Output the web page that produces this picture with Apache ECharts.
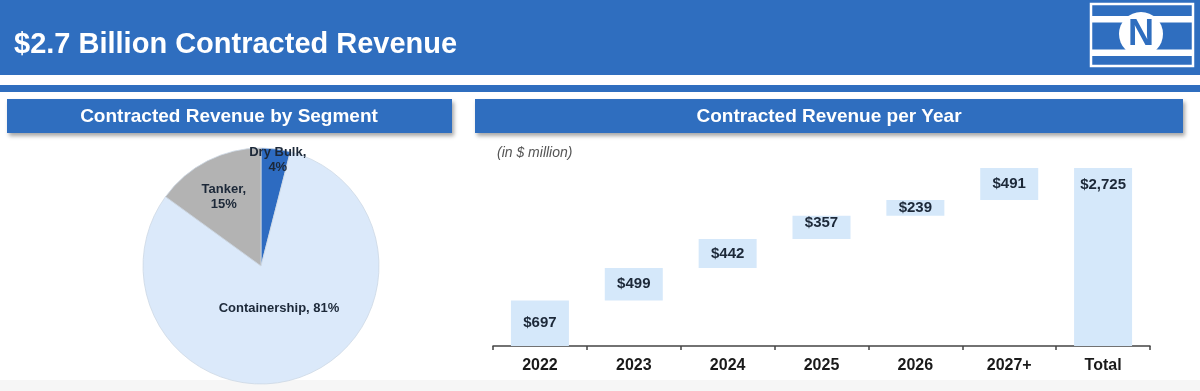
<!DOCTYPE html>
<html>
<head>
<meta charset="utf-8">
<script src="https://cdn.jsdelivr.net/npm/echarts@6/dist/echarts.min.js"></script>
<style>
  html, body { margin: 0; padding: 0; background: #ffffff; }
  #chart { width: 1200px; height: 391px; }
</style>
</head>
<body>
<div id="chart"></div>
<script>
// ---- Data ----
const pageTitle = '$2.7 Billion Contracted Revenue';
const leftTitle = 'Contracted Revenue by Segment';
const rightTitle = 'Contracted Revenue per Year';
const unitNote = '(in $ million)';

const segments = ['Dry Bulk', 'Containership', 'Tanker'];
const segmentShare = [4, 81, 15];

const years = ['2022', '2023', '2024', '2025', '2026', '2027+', 'Total'];
const revenue = [697, 499, 442, 357, 239, 491, 2725];

// ---- Styles (kept apart from data) ----
const BLUE = '#2f6ebf';
const FONT = '"Liberation Sans", Arial, Helvetica, sans-serif';
const segmentColors = ['#2d6bc1', '#dbe9fa', '#b3b3b3'];
const segmentLabelOffsets = [[9, -45], [-3, -16], [-9, -14]];
const segmentLabelOneLine = [false, true, false];
const barLabelOffsets = [[0, 0], [0, 0], [0, 0], [0, -4], [0, 0], [0, 0], [0, 0]];

// waterfall bases derived from the values
const lastIdx = revenue.length - 1;
const bases = revenue.map((v, i) => {
  if (i === lastIdx) return 0;
  let s = 0;
  for (let k = 0; k < i; k++) s += revenue[k];
  return s;
});

const fmtMoney = v => '$' + v.toLocaleString('en-US');

const chart = echarts.init(document.getElementById('chart'), null, { renderer: 'canvas' });

const option = {
  backgroundColor: '#ffffff',
  animation: false,
  graphic: [
    // faint band at the bottom
    { type: 'rect', z: -10, shape: { x: 0, y: 380, width: 1200, height: 11 }, style: { fill: '#f6f6f6' } },
    // top header
    { type: 'rect', shape: { x: 0, y: 0, width: 1200, height: 75 }, style: { fill: BLUE } },
    { type: 'rect', shape: { x: 0, y: 85, width: 1200, height: 7 }, style: { fill: BLUE } },
    { type: 'text', x: 14, y: 45, style: { text: pageTitle, fill: '#ffffff', font: 'bold 29px ' + FONT, textVerticalAlign: 'middle' } },
    // logo
    { type: 'rect', shape: { x: 1091, y: 4, width: 102, height: 62 }, style: { fill: 'none', stroke: '#ffffff', lineWidth: 2.5 } },
    { type: 'rect', shape: { x: 1091, y: 16, width: 102, height: 6.5 }, style: { fill: '#ffffff' } },
    { type: 'rect', shape: { x: 1091, y: 49.5, width: 102, height: 6.5 }, style: { fill: '#ffffff' } },
    { type: 'circle', shape: { cx: 1141, cy: 34, r: 22 }, style: { fill: '#ffffff' } },
    { type: 'text', x: 1141, y: 35, style: { text: 'N', fill: BLUE, font: 'bold 36px ' + FONT, textAlign: 'center', textVerticalAlign: 'middle' } },
    // panel headers
    { type: 'rect', shape: { x: 7, y: 99, width: 445, height: 34 },
      style: { fill: BLUE, shadowBlur: 4, shadowOffsetX: 2, shadowOffsetY: 3, shadowColor: 'rgba(0,0,0,0.35)' } },
    { type: 'text', x: 229, y: 117, style: { text: leftTitle, fill: '#ffffff', font: 'bold 19px ' + FONT, textAlign: 'center', textVerticalAlign: 'middle' } },
    { type: 'rect', shape: { x: 475, y: 99, width: 708, height: 34 },
      style: { fill: BLUE, shadowBlur: 4, shadowOffsetX: 2, shadowOffsetY: 3, shadowColor: 'rgba(0,0,0,0.35)' } },
    { type: 'text', x: 829, y: 117, style: { text: rightTitle, fill: '#ffffff', font: 'bold 19px ' + FONT, textAlign: 'center', textVerticalAlign: 'middle' } },
    { type: 'text', x: 497, y: 153, style: { text: unitNote, fill: '#555555', font: 'italic 14px ' + FONT, textVerticalAlign: 'middle' } }
  ],
  grid: { left: 493, right: 50, top: 168, bottom: 45, containLabel: false },
  xAxis: {
    type: 'category',
    data: years,
    boundaryGap: true,
    axisLine: { show: true, lineStyle: { color: '#444444', width: 1.5 } },
    axisTick: { show: true, length: 4, inside: false, lineStyle: { color: '#444444', width: 1.5 } },
    axisLabel: { color: '#1a1a1a', fontFamily: FONT, fontWeight: 'bold', fontSize: 16, margin: 12 }
  },
  yAxis: {
    type: 'value', min: 0, max: revenue[lastIdx],
    show: false, splitLine: { show: false }
  },
  series: [
    {
      type: 'pie',
      center: [261, 266],
      radius: [0, 118],
      startAngle: 90,
      clockwise: true,
      silent: true,
      itemStyle: { borderColor: '#cdd8e4', borderWidth: 0.8 },
      label: {
        show: true,
        position: 'inside',
        color: '#1c2838',
        fontFamily: FONT,
        fontWeight: 'bold',
        fontSize: 13,
        lineHeight: 15,
        formatter: p => segmentLabelOneLine[p.dataIndex] ? (p.name + ', ' + p.value + '%') : (p.name + ',\n' + p.value + '%')
      },
      labelLine: { show: false },
      data: segments.map((name, i) => ({
        name: name,
        value: segmentShare[i],
        itemStyle: { color: segmentColors[i] },
        label: { offset: segmentLabelOffsets[i] }
      }))
    },
    {
      type: 'bar',
      stack: 'wf',
      barWidth: 58,
      silent: true,
      itemStyle: { color: 'transparent' },
      data: bases
    },
    {
      type: 'bar',
      stack: 'wf',
      barWidth: 58,
      silent: true,
      itemStyle: { color: '#d5e8fa' },
      label: {
        show: true,
        position: 'inside',
        color: '#1c2838',
        fontFamily: FONT,
        fontWeight: 'bold',
        fontSize: 15,
        formatter: p => fmtMoney(p.value)
      },
      data: revenue.map((v, i) => (i === lastIdx
        ? { value: v, label: { position: 'insideTop', distance: 9 } }
        : { value: v, label: { offset: barLabelOffsets[i] } }))
    }
  ]
};

chart.setOption(option);
</script>
</body>
</html>
